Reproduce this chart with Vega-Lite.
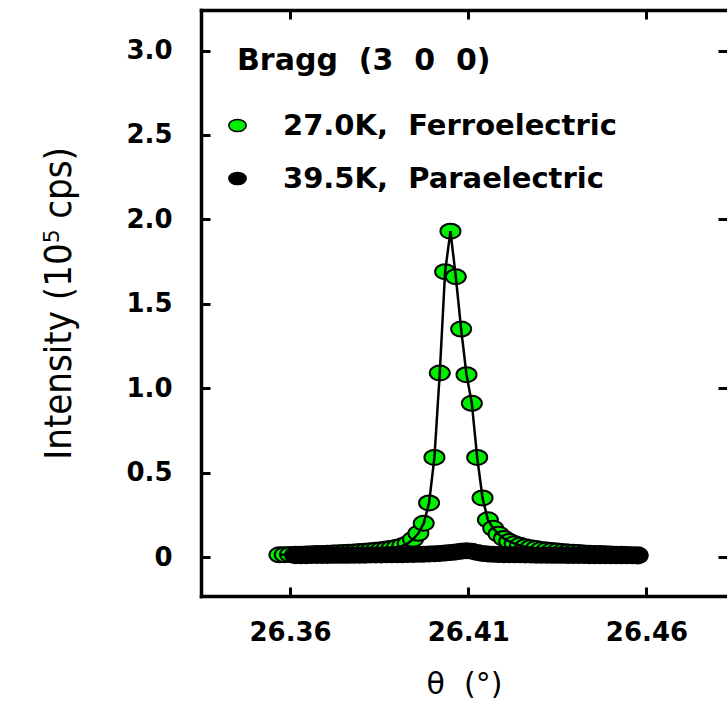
{
  "$schema": "https://vega.github.io/schema/vega-lite/v6.json",
  "autosize": {"type": "none"},
  "padding": {"left": 201, "top": 10, "right": 0, "bottom": 119},
  "width": 526,
  "height": 586,
  "background": "white",
  "config": {
    "view": {"stroke": null},
    "axis": {
      "grid": false,
      "domainColor": "black",
      "domainWidth": 3.5,
      "domainCap": "square",
      "tickColor": "black",
      "tickWidth": 3,
      "tickSize": -9,
      "labelColor": "black",
      "labelFont": "DejaVu Sans",
      "labelFontWeight": "bold",
      "labelFontSize": 26,
      "titleColor": "black"
    }
  },
  "datasets": {
    "ferro": [
      {"theta": 26.357, "intensity": 0.013, "series": "27.0K,\u00a0\u00a0Ferroelectric"},
      {"theta": 26.3585, "intensity": 0.014, "series": "27.0K,\u00a0\u00a0Ferroelectric"},
      {"theta": 26.36, "intensity": 0.015, "series": "27.0K,\u00a0\u00a0Ferroelectric"},
      {"theta": 26.3615, "intensity": 0.016, "series": "27.0K,\u00a0\u00a0Ferroelectric"},
      {"theta": 26.363, "intensity": 0.017, "series": "27.0K,\u00a0\u00a0Ferroelectric"},
      {"theta": 26.3645, "intensity": 0.018, "series": "27.0K,\u00a0\u00a0Ferroelectric"},
      {"theta": 26.366, "intensity": 0.019, "series": "27.0K,\u00a0\u00a0Ferroelectric"},
      {"theta": 26.3675, "intensity": 0.02, "series": "27.0K,\u00a0\u00a0Ferroelectric"},
      {"theta": 26.369, "intensity": 0.021, "series": "27.0K,\u00a0\u00a0Ferroelectric"},
      {"theta": 26.3705, "intensity": 0.022, "series": "27.0K,\u00a0\u00a0Ferroelectric"},
      {"theta": 26.372, "intensity": 0.023, "series": "27.0K,\u00a0\u00a0Ferroelectric"},
      {"theta": 26.3735, "intensity": 0.025, "series": "27.0K,\u00a0\u00a0Ferroelectric"},
      {"theta": 26.375, "intensity": 0.026, "series": "27.0K,\u00a0\u00a0Ferroelectric"},
      {"theta": 26.3765, "intensity": 0.028, "series": "27.0K,\u00a0\u00a0Ferroelectric"},
      {"theta": 26.378, "intensity": 0.03, "series": "27.0K,\u00a0\u00a0Ferroelectric"},
      {"theta": 26.3795, "intensity": 0.032, "series": "27.0K,\u00a0\u00a0Ferroelectric"},
      {"theta": 26.381, "intensity": 0.034, "series": "27.0K,\u00a0\u00a0Ferroelectric"},
      {"theta": 26.3825, "intensity": 0.037, "series": "27.0K,\u00a0\u00a0Ferroelectric"},
      {"theta": 26.384, "intensity": 0.04, "series": "27.0K,\u00a0\u00a0Ferroelectric"},
      {"theta": 26.3855, "intensity": 0.043, "series": "27.0K,\u00a0\u00a0Ferroelectric"},
      {"theta": 26.387, "intensity": 0.047, "series": "27.0K,\u00a0\u00a0Ferroelectric"},
      {"theta": 26.3885, "intensity": 0.052, "series": "27.0K,\u00a0\u00a0Ferroelectric"},
      {"theta": 26.39, "intensity": 0.058, "series": "27.0K,\u00a0\u00a0Ferroelectric"},
      {"theta": 26.3915, "intensity": 0.066, "series": "27.0K,\u00a0\u00a0Ferroelectric"},
      {"theta": 26.393, "intensity": 0.08, "series": "27.0K,\u00a0\u00a0Ferroelectric"},
      {"theta": 26.3945, "intensity": 0.105, "series": "27.0K,\u00a0\u00a0Ferroelectric"},
      {"theta": 26.396, "intensity": 0.14, "series": "27.0K,\u00a0\u00a0Ferroelectric"},
      {"theta": 26.3975, "intensity": 0.2, "series": "27.0K,\u00a0\u00a0Ferroelectric"},
      {"theta": 26.399, "intensity": 0.32, "series": "27.0K,\u00a0\u00a0Ferroelectric"},
      {"theta": 26.4005, "intensity": 0.59, "series": "27.0K,\u00a0\u00a0Ferroelectric"},
      {"theta": 26.402, "intensity": 1.09, "series": "27.0K,\u00a0\u00a0Ferroelectric"},
      {"theta": 26.4035, "intensity": 1.69, "series": "27.0K,\u00a0\u00a0Ferroelectric"},
      {"theta": 26.405, "intensity": 1.93, "series": "27.0K,\u00a0\u00a0Ferroelectric"},
      {"theta": 26.4065, "intensity": 1.66, "series": "27.0K,\u00a0\u00a0Ferroelectric"},
      {"theta": 26.408, "intensity": 1.35, "series": "27.0K,\u00a0\u00a0Ferroelectric"},
      {"theta": 26.4095, "intensity": 1.08, "series": "27.0K,\u00a0\u00a0Ferroelectric"},
      {"theta": 26.411, "intensity": 0.91, "series": "27.0K,\u00a0\u00a0Ferroelectric"},
      {"theta": 26.4125, "intensity": 0.59, "series": "27.0K,\u00a0\u00a0Ferroelectric"},
      {"theta": 26.414, "intensity": 0.35, "series": "27.0K,\u00a0\u00a0Ferroelectric"},
      {"theta": 26.4155, "intensity": 0.22, "series": "27.0K,\u00a0\u00a0Ferroelectric"},
      {"theta": 26.417, "intensity": 0.17, "series": "27.0K,\u00a0\u00a0Ferroelectric"},
      {"theta": 26.4185, "intensity": 0.135, "series": "27.0K,\u00a0\u00a0Ferroelectric"},
      {"theta": 26.42, "intensity": 0.11, "series": "27.0K,\u00a0\u00a0Ferroelectric"},
      {"theta": 26.4215, "intensity": 0.092, "series": "27.0K,\u00a0\u00a0Ferroelectric"},
      {"theta": 26.423, "intensity": 0.079, "series": "27.0K,\u00a0\u00a0Ferroelectric"},
      {"theta": 26.4245, "intensity": 0.069, "series": "27.0K,\u00a0\u00a0Ferroelectric"},
      {"theta": 26.426, "intensity": 0.061, "series": "27.0K,\u00a0\u00a0Ferroelectric"},
      {"theta": 26.4275, "intensity": 0.055, "series": "27.0K,\u00a0\u00a0Ferroelectric"},
      {"theta": 26.429, "intensity": 0.05, "series": "27.0K,\u00a0\u00a0Ferroelectric"},
      {"theta": 26.4305, "intensity": 0.045, "series": "27.0K,\u00a0\u00a0Ferroelectric"},
      {"theta": 26.432, "intensity": 0.041, "series": "27.0K,\u00a0\u00a0Ferroelectric"},
      {"theta": 26.4335, "intensity": 0.038, "series": "27.0K,\u00a0\u00a0Ferroelectric"},
      {"theta": 26.435, "intensity": 0.035, "series": "27.0K,\u00a0\u00a0Ferroelectric"},
      {"theta": 26.4365, "intensity": 0.032, "series": "27.0K,\u00a0\u00a0Ferroelectric"},
      {"theta": 26.438, "intensity": 0.03, "series": "27.0K,\u00a0\u00a0Ferroelectric"},
      {"theta": 26.4395, "intensity": 0.028, "series": "27.0K,\u00a0\u00a0Ferroelectric"},
      {"theta": 26.441, "intensity": 0.026, "series": "27.0K,\u00a0\u00a0Ferroelectric"},
      {"theta": 26.4425, "intensity": 0.024, "series": "27.0K,\u00a0\u00a0Ferroelectric"},
      {"theta": 26.444, "intensity": 0.022, "series": "27.0K,\u00a0\u00a0Ferroelectric"},
      {"theta": 26.4455, "intensity": 0.021, "series": "27.0K,\u00a0\u00a0Ferroelectric"},
      {"theta": 26.447, "intensity": 0.02, "series": "27.0K,\u00a0\u00a0Ferroelectric"},
      {"theta": 26.4485, "intensity": 0.019, "series": "27.0K,\u00a0\u00a0Ferroelectric"},
      {"theta": 26.45, "intensity": 0.018, "series": "27.0K,\u00a0\u00a0Ferroelectric"},
      {"theta": 26.4515, "intensity": 0.017, "series": "27.0K,\u00a0\u00a0Ferroelectric"},
      {"theta": 26.453, "intensity": 0.016, "series": "27.0K,\u00a0\u00a0Ferroelectric"},
      {"theta": 26.4545, "intensity": 0.015, "series": "27.0K,\u00a0\u00a0Ferroelectric"},
      {"theta": 26.456, "intensity": 0.014, "series": "27.0K,\u00a0\u00a0Ferroelectric"},
      {"theta": 26.4575, "intensity": 0.013, "series": "27.0K,\u00a0\u00a0Ferroelectric"}
    ],
    "para": [
      {"theta": 26.3615, "intensity": 0.008, "series": "39.5K,\u00a0\u00a0Paraelectric"},
      {"theta": 26.363, "intensity": 0.008, "series": "39.5K,\u00a0\u00a0Paraelectric"},
      {"theta": 26.3645, "intensity": 0.008, "series": "39.5K,\u00a0\u00a0Paraelectric"},
      {"theta": 26.366, "intensity": 0.009, "series": "39.5K,\u00a0\u00a0Paraelectric"},
      {"theta": 26.3675, "intensity": 0.009, "series": "39.5K,\u00a0\u00a0Paraelectric"},
      {"theta": 26.369, "intensity": 0.009, "series": "39.5K,\u00a0\u00a0Paraelectric"},
      {"theta": 26.3705, "intensity": 0.009, "series": "39.5K,\u00a0\u00a0Paraelectric"},
      {"theta": 26.372, "intensity": 0.01, "series": "39.5K,\u00a0\u00a0Paraelectric"},
      {"theta": 26.3735, "intensity": 0.01, "series": "39.5K,\u00a0\u00a0Paraelectric"},
      {"theta": 26.375, "intensity": 0.01, "series": "39.5K,\u00a0\u00a0Paraelectric"},
      {"theta": 26.3765, "intensity": 0.01, "series": "39.5K,\u00a0\u00a0Paraelectric"},
      {"theta": 26.378, "intensity": 0.011, "series": "39.5K,\u00a0\u00a0Paraelectric"},
      {"theta": 26.3795, "intensity": 0.011, "series": "39.5K,\u00a0\u00a0Paraelectric"},
      {"theta": 26.381, "intensity": 0.011, "series": "39.5K,\u00a0\u00a0Paraelectric"},
      {"theta": 26.3825, "intensity": 0.012, "series": "39.5K,\u00a0\u00a0Paraelectric"},
      {"theta": 26.384, "intensity": 0.012, "series": "39.5K,\u00a0\u00a0Paraelectric"},
      {"theta": 26.3855, "intensity": 0.012, "series": "39.5K,\u00a0\u00a0Paraelectric"},
      {"theta": 26.387, "intensity": 0.013, "series": "39.5K,\u00a0\u00a0Paraelectric"},
      {"theta": 26.3885, "intensity": 0.013, "series": "39.5K,\u00a0\u00a0Paraelectric"},
      {"theta": 26.39, "intensity": 0.014, "series": "39.5K,\u00a0\u00a0Paraelectric"},
      {"theta": 26.3915, "intensity": 0.014, "series": "39.5K,\u00a0\u00a0Paraelectric"},
      {"theta": 26.393, "intensity": 0.015, "series": "39.5K,\u00a0\u00a0Paraelectric"},
      {"theta": 26.3945, "intensity": 0.015, "series": "39.5K,\u00a0\u00a0Paraelectric"},
      {"theta": 26.396, "intensity": 0.016, "series": "39.5K,\u00a0\u00a0Paraelectric"},
      {"theta": 26.3975, "intensity": 0.017, "series": "39.5K,\u00a0\u00a0Paraelectric"},
      {"theta": 26.399, "intensity": 0.018, "series": "39.5K,\u00a0\u00a0Paraelectric"},
      {"theta": 26.4005, "intensity": 0.019, "series": "39.5K,\u00a0\u00a0Paraelectric"},
      {"theta": 26.402, "intensity": 0.021, "series": "39.5K,\u00a0\u00a0Paraelectric"},
      {"theta": 26.4035, "intensity": 0.023, "series": "39.5K,\u00a0\u00a0Paraelectric"},
      {"theta": 26.405, "intensity": 0.026, "series": "39.5K,\u00a0\u00a0Paraelectric"},
      {"theta": 26.4065, "intensity": 0.03, "series": "39.5K,\u00a0\u00a0Paraelectric"},
      {"theta": 26.408, "intensity": 0.034, "series": "39.5K,\u00a0\u00a0Paraelectric"},
      {"theta": 26.4095, "intensity": 0.037, "series": "39.5K,\u00a0\u00a0Paraelectric"},
      {"theta": 26.411, "intensity": 0.034, "series": "39.5K,\u00a0\u00a0Paraelectric"},
      {"theta": 26.4125, "intensity": 0.027, "series": "39.5K,\u00a0\u00a0Paraelectric"},
      {"theta": 26.414, "intensity": 0.021, "series": "39.5K,\u00a0\u00a0Paraelectric"},
      {"theta": 26.4155, "intensity": 0.018, "series": "39.5K,\u00a0\u00a0Paraelectric"},
      {"theta": 26.417, "intensity": 0.016, "series": "39.5K,\u00a0\u00a0Paraelectric"},
      {"theta": 26.4185, "intensity": 0.015, "series": "39.5K,\u00a0\u00a0Paraelectric"},
      {"theta": 26.42, "intensity": 0.014, "series": "39.5K,\u00a0\u00a0Paraelectric"},
      {"theta": 26.4215, "intensity": 0.014, "series": "39.5K,\u00a0\u00a0Paraelectric"},
      {"theta": 26.423, "intensity": 0.013, "series": "39.5K,\u00a0\u00a0Paraelectric"},
      {"theta": 26.4245, "intensity": 0.013, "series": "39.5K,\u00a0\u00a0Paraelectric"},
      {"theta": 26.426, "intensity": 0.012, "series": "39.5K,\u00a0\u00a0Paraelectric"},
      {"theta": 26.4275, "intensity": 0.012, "series": "39.5K,\u00a0\u00a0Paraelectric"},
      {"theta": 26.429, "intensity": 0.011, "series": "39.5K,\u00a0\u00a0Paraelectric"},
      {"theta": 26.4305, "intensity": 0.011, "series": "39.5K,\u00a0\u00a0Paraelectric"},
      {"theta": 26.432, "intensity": 0.011, "series": "39.5K,\u00a0\u00a0Paraelectric"},
      {"theta": 26.4335, "intensity": 0.01, "series": "39.5K,\u00a0\u00a0Paraelectric"},
      {"theta": 26.435, "intensity": 0.01, "series": "39.5K,\u00a0\u00a0Paraelectric"},
      {"theta": 26.4365, "intensity": 0.01, "series": "39.5K,\u00a0\u00a0Paraelectric"},
      {"theta": 26.438, "intensity": 0.009, "series": "39.5K,\u00a0\u00a0Paraelectric"},
      {"theta": 26.4395, "intensity": 0.009, "series": "39.5K,\u00a0\u00a0Paraelectric"},
      {"theta": 26.441, "intensity": 0.009, "series": "39.5K,\u00a0\u00a0Paraelectric"},
      {"theta": 26.4425, "intensity": 0.009, "series": "39.5K,\u00a0\u00a0Paraelectric"},
      {"theta": 26.444, "intensity": 0.008, "series": "39.5K,\u00a0\u00a0Paraelectric"},
      {"theta": 26.4455, "intensity": 0.008, "series": "39.5K,\u00a0\u00a0Paraelectric"},
      {"theta": 26.447, "intensity": 0.008, "series": "39.5K,\u00a0\u00a0Paraelectric"},
      {"theta": 26.4485, "intensity": 0.008, "series": "39.5K,\u00a0\u00a0Paraelectric"},
      {"theta": 26.45, "intensity": 0.007, "series": "39.5K,\u00a0\u00a0Paraelectric"},
      {"theta": 26.4515, "intensity": 0.007, "series": "39.5K,\u00a0\u00a0Paraelectric"},
      {"theta": 26.453, "intensity": 0.007, "series": "39.5K,\u00a0\u00a0Paraelectric"},
      {"theta": 26.4545, "intensity": 0.007, "series": "39.5K,\u00a0\u00a0Paraelectric"},
      {"theta": 26.456, "intensity": 0.007, "series": "39.5K,\u00a0\u00a0Paraelectric"},
      {"theta": 26.4575, "intensity": 0.006, "series": "39.5K,\u00a0\u00a0Paraelectric"}
    ]
  },
  "resolve": {"axis": {"x": "independent", "y": "independent"}},
  "layer": [
    {
      "data": {"name": "ferro"},
      "mark": {
        "type": "point",
        "filled": true,
        "shape": "M-1,0A1,0.75,0,1,1,1,0A1,0.75,0,1,1,-1,0Z",
        "size": 400,
        "stroke": "black",
        "strokeWidth": 2,
        "opacity": 1
      },
      "encoding": {
        "x": {
          "field": "theta", "type": "quantitative",
          "scale": {"domain": [26.335, 26.4826], "nice": false, "zero": false},
          "axis": {
            "orient": "bottom",
            "values": [26.36, 26.41, 26.46],
            "format": ".2f",
            "labelPadding": 32,
            "title": "θ\u00a0\u00a0(°)",
            "titleFont": "DejaVu Sans",
            "titleFontSize": 30,
            "titleFontWeight": "normal",
            "titlePadding": 24
          }
        },
        "y": {
          "field": "intensity", "type": "quantitative",
          "scale": {"domain": [-0.231, 3.24], "nice": false, "zero": false},
          "axis": {
            "orient": "left",
            "values": [0, 0.5, 1, 1.5, 2, 2.5, 3],
            "labelExpr": "datum.value == 0 ? '0' : format(datum.value, '.1f')",
            "labelPadding": 38,
            "title": "Intensity (10⁵ cps)",
            "titleFont": "Liberation Sans Narrow, DejaVu Sans Condensed, sans-serif",
            "titleFontSize": 38,
            "titleFontWeight": "normal",
            "titlePadding": 47
          }
        },
        "color": {
          "field": "series", "type": "nominal",
          "scale": {
            "domain": ["27.0K,\u00a0\u00a0Ferroelectric", "39.5K,\u00a0\u00a0Paraelectric"],
            "range": ["#00ee00", "#000000"]
          },
          "legend": {
            "orient": "none",
            "legendX": 36,
            "legendY": 36,
            "padding": 0,
            "title": "Bragg\u00a0\u00a0(3\u00a0\u00a00\u00a0\u00a00)",
            "titleFont": "DejaVu Sans",
            "titleFontSize": 30,
            "titleFontWeight": "bold",
            "titleColor": "black",
            "titlePadding": 35,
            "titleLimit": 400,
            "labelFont": "DejaVu Sans",
            "labelFontSize": 29,
            "labelFontWeight": "bold",
            "labelColor": "black",
            "labelLimit": 500,
            "labelOffset": 31,
            "symbolOffset": -14,
            "rowPadding": 23,
            "symbolType": "M-1,0A1,0.7,0,1,1,1,0A1,0.7,0,1,1,-1,0Z",
            "symbolSize": 300,
            "symbolStrokeColor": "black",
            "symbolStrokeWidth": 1.5,
            "symbolOpacity": 1
          }
        }
      }
    },
    {
      "data": {"name": "ferro"},
      "mark": {"type": "line", "color": "black", "strokeWidth": 2.5},
      "encoding": {
        "x": {
          "field": "theta", "type": "quantitative",
          "axis": {
            "orient": "top",
            "values": [26.36, 26.41, 26.46],
            "labels": false,
            "title": null
          }
        },
        "y": {"field": "intensity", "type": "quantitative", "axis": null}
      }
    },
    {
      "data": {"name": "para"},
      "mark": {
        "type": "point",
        "filled": true,
        "shape": "M-1,0A1,0.75,0,1,1,1,0A1,0.75,0,1,1,-1,0Z",
        "size": 400,
        "stroke": "black",
        "strokeWidth": 2,
        "opacity": 1
      },
      "encoding": {
        "x": {"field": "theta", "type": "quantitative", "axis": null},
        "y": {
          "field": "intensity", "type": "quantitative",
          "axis": {
            "orient": "right",
            "values": [0, 1, 2, 3],
            "labels": false,
            "domain": false,
            "title": null
          }
        },
        "color": {"field": "series", "type": "nominal"}
      }
    }
  ]
}
